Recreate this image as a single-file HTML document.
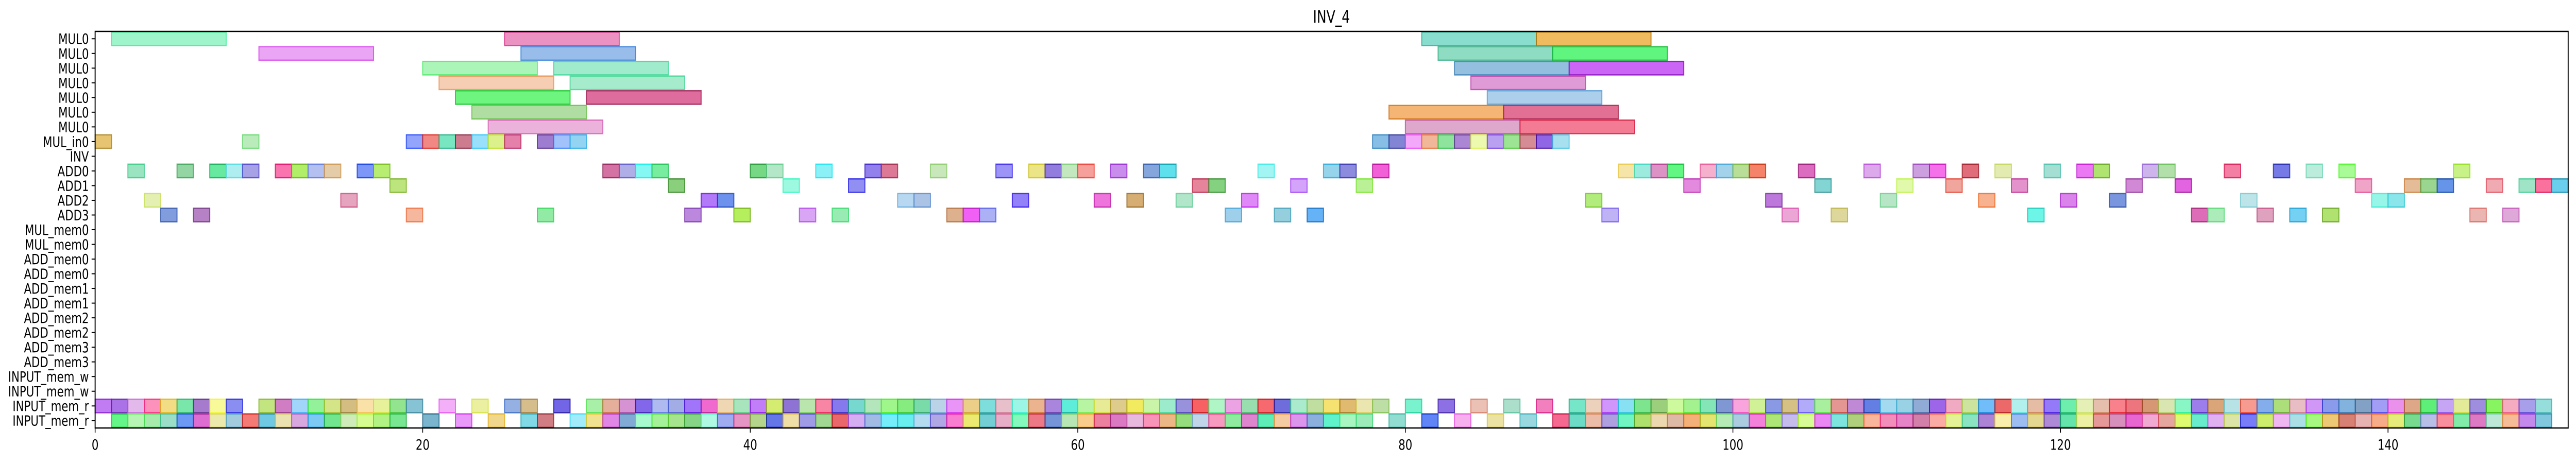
<!DOCTYPE html>
<html><head><meta charset="utf-8"><style>
html,body{margin:0;padding:0;background:#fff;overflow:hidden;width:100%;height:100%;}
svg{display:block;position:absolute;left:0;top:0;width:100vw;height:100vh;font-family:"DejaVu Sans","Liberation Sans",sans-serif;}
</style></head><body>
<svg id="chart" viewBox="0 0 6580 899" preserveAspectRatio="none" xmlns="http://www.w3.org/2000/svg">
<text x="3401" y="44" font-size="33" text-anchor="middle">INV_4</text>
<g id="bars"></g>
<g id="axes"></g>
</svg>
<script>
const rowLabels = ["MUL0","MUL0","MUL0","MUL0","MUL0","MUL0","MUL0","MUL_in0","INV","ADD0","ADD1","ADD2","ADD3","MUL_mem0","MUL_mem0","ADD_mem0","ADD_mem0","ADD_mem1","ADD_mem1","ADD_mem2","ADD_mem2","ADD_mem3","ADD_mem3","INPUT_mem_w","INPUT_mem_w","INPUT_mem_r","INPUT_mem_r"];
const xTicks = [0,20,40,60,80,100,120,140];
const mulDuration = 7;
const mul0Starts = [[1,25,81,88],[10,26,82,89],[20,28,83,90],[21,29,84],[22,30,85],[23,79,86],[24,80,87]];
const mulIn0Starts = [0,9,19,20,21,22,23,24,25,27,28,29,78,79,80,81,82,83,84,85,86,87,88,89];
const add0Starts = [2,5,7,8,9,11,12,13,14,16,17,31,32,33,34,40,41,44,47,48,51,55,57,58,59,60,62,64,65,71,75,76,78,93,94,95,96,98,99,100,101,104,108,111,112,114,116,119,121,122,125,126,130,133,135,137,144];
const add1Starts = [18,35,42,46,67,68,73,77,97,105,110,113,117,124,127,138,141,142,143,146,148,149,150];
const add2Starts = [3,15,37,38,49,50,56,61,63,66,70,91,102,109,115,120,123,131,139,140];
const add3Starts = [4,6,19,27,36,39,43,45,52,53,54,69,72,74,92,103,106,118,128,129,132,134,136,145,147];
const inputR1Starts = [0,1,2,3,4,5,6,7,8,10,11,12,13,14,15,16,17,18,19,21,23,25,26,28].concat(range(30,78),[80,82,84,86,88],range(90,149));
const inputR2Starts = range(1,18).concat([20,22,24,26,27,29],range(30,77),[79,81,83,85,87],range(89,149));
function range(a,b){const r=[];for(let i=a;i<=b;i++)r.push(i);return r;}

const L=243,R=6560,T=61,B=831,XMAX=151;
const rowH=(B-T)/rowLabels.length;
function X(t){return L+(R-L)*t/XMAX;}
function Yc(k){return T+(k+0.5)*rowH;}
const NS="http://www.w3.org/2000/svg";
const barsG=document.getElementById('bars');
const axesG=document.getElementById('axes');
let ci=0;
function color(){ci++;const h=(ci*137.508+ci*ci*13)%360;const s=45+((ci*37)%50);const l=45+((ci*53)%30);return [h,s,l];}
function addBar(row,start,dur,name){
  const [h,s,l]=color();
  const r=document.createElementNS(NS,'rect');
  const hh=rowH*0.92;
  r.setAttribute('x',X(start));r.setAttribute('y',Yc(row)-hh/2);
  r.setAttribute('width',X(start+dur)-X(start));r.setAttribute('height',hh);
  r.setAttribute('fill',`hsla(${h},${s}%,${l}%,0.65)`);
  r.setAttribute('stroke',`hsla(${h},${s}%,${l-12}%,0.8)`);
  r.setAttribute('stroke-width','2.5');
  
  
  barsG.appendChild(r);
}
mul0Starts.forEach((arr,k)=>arr.forEach(s=>addBar(k,s,mulDuration,'mul0-bar')));
mulIn0Starts.forEach(s=>addBar(7,s,1,'mul-in0-bar'));
add0Starts.forEach(s=>addBar(9,s,1,'add0-bar'));
add1Starts.forEach(s=>addBar(10,s,1,'add1-bar'));
add2Starts.forEach(s=>addBar(11,s,1,'add2-bar'));
add3Starts.forEach(s=>addBar(12,s,1,'add3-bar'));
inputR1Starts.forEach(s=>addBar(25,s,1,'input-mem-r-bar'));
inputR2Starts.forEach(s=>addBar(26,s,1,'input-mem-r-bar'));

const fr=document.createElementNS(NS,'rect');
fr.setAttribute('x',L);fr.setAttribute('y',T);fr.setAttribute('width',R-L);fr.setAttribute('height',B-T);
fr.setAttribute('fill','none');fr.setAttribute('stroke','#000');fr.setAttribute('stroke-width','2.5');


axesG.appendChild(fr);
rowLabels.forEach((lab,k)=>{
  const y=Yc(k);
  const tk=document.createElementNS(NS,'line');
  tk.setAttribute('x1',L-9);tk.setAttribute('x2',L);tk.setAttribute('y1',y);tk.setAttribute('y2',y);
  tk.setAttribute('stroke','#000');tk.setAttribute('stroke-width','2');
  
  
  axesG.appendChild(tk);
  const tx=document.createElementNS(NS,'text');
  tx.setAttribute('x',L-16);tx.setAttribute('y',y+10);tx.setAttribute('font-size','28');tx.setAttribute('text-anchor','end');
  tx.textContent=lab;
  
  
  axesG.appendChild(tx);
});
xTicks.forEach(v=>{
  const x=X(v);
  const tk=document.createElementNS(NS,'line');
  tk.setAttribute('x1',x);tk.setAttribute('x2',x);tk.setAttribute('y1',B);tk.setAttribute('y2',B+9);
  tk.setAttribute('stroke','#000');tk.setAttribute('stroke-width','2');
  
  
  axesG.appendChild(tk);
  const tx=document.createElementNS(NS,'text');
  tx.setAttribute('x',x);tx.setAttribute('y',B+42);tx.setAttribute('font-size','28');tx.setAttribute('text-anchor','middle');
  tx.textContent=String(v);
  
  
  axesG.appendChild(tx);
});
</script>
</body></html>
